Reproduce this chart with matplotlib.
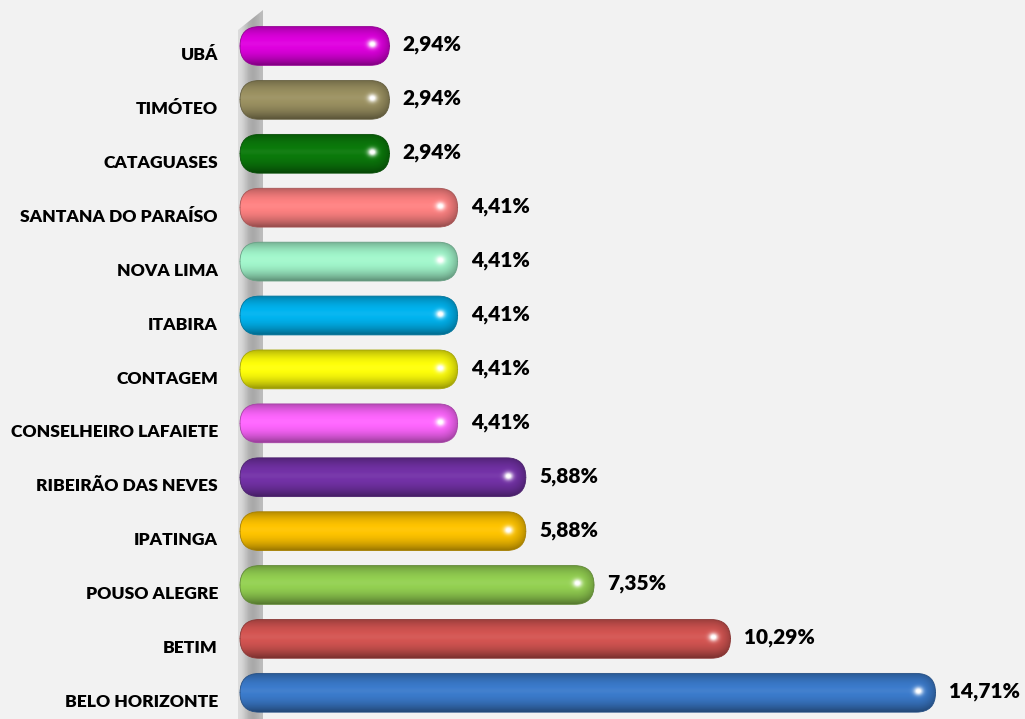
import numpy as np
import matplotlib.pyplot as plt
import matplotlib.colors as mcolors
from matplotlib.patches import FancyBboxPatch, Polygon

cidades = ["UBÁ", "TIMÓTEO", "CATAGUASES", "SANTANA DO PARAÍSO", "NOVA LIMA",
           "ITABIRA", "CONTAGEM", "CONSELHEIRO LAFAIETE", "RIBEIRÃO DAS NEVES",
           "IPATINGA", "POUSO ALEGRE", "BETIM", "BELO HORIZONTE"]
valores = [2.94, 2.94, 2.94, 4.41, 4.41, 4.41, 4.41, 4.41, 5.88, 5.88, 7.35, 10.29, 14.71]
cores = ["#e000e0", "#9c9262", "#0b7a0b", "#ff8282", "#a2f7cc",
         "#00b4f0", "#ffff0a", "#ff66ff", "#7432a8",
         "#ffc400", "#94d152", "#d45552", "#3b7bcc"]
rotulos = [f"{v:.2f}".replace(".", ",") + "%" for v in valores]

fundo = "#f2f2f2"
px_x = 46.4   # pixels por unidade (x)
px_y = 53.9   # pixels por categoria (y)
inicio = -0.28  # a barra comeca um pouco antes do zero (efeito 3d)
altura = 0.72


def textura(cor, nx, ny):
    rgb = np.array(mcolors.to_rgb(cor))
    t = np.linspace(0, 1, ny)[:, None]
    perfil = 1.01 - 0.42 * ((t - 0.45) / 0.55) ** 2
    perfil = np.repeat(perfil, nx, axis=1)
    # escurece na ponta arredondada
    col = np.arange(nx)[None, :]
    r = 19.0
    ponta = np.clip((col - (nx - r)) / r, 0, 1)
    perfil = perfil * (1 - 0.3 * ponta ** 2)
    img = rgb[None, None, :] * np.clip(perfil, 0, 1)[:, :, None]
    claro = np.clip(perfil - 1, 0, None)[:, :, None]
    img = img + (1 - img) * claro * 4
    # brilho
    yy, xx = np.mgrid[0:ny, 0:nx]
    g = np.exp(-(((xx - (nx - 18)) / 4.5) ** 2 + ((yy - ny * 0.45) / 3.8) ** 2))
    img = img + (1 - img) * np.clip(g * 1.2, 0, 1)[:, :, None]
    return np.clip(img, 0, 1)


fig = plt.figure(figsize=(10.25, 7.19), dpi=100, facecolor=fundo)
ax = fig.add_axes([238 / 1025, 0, (1025 - 238) / 1025, 1])
ax.set_facecolor(fundo)

x_esq = (238 - 253) / px_x
x_dir = (1025 - 253) / px_x
y_cima = -46 / px_y
y_baixo = (719 - 46) / px_y

# parede lateral
x_parede = (263 - 253) / px_x
parede = Polygon([(x_esq, y_baixo), (x_esq, (30 - 46) / px_y),
                  (x_parede, (10 - 46) / px_y), (x_parede, y_baixo)],
                 closed=True, facecolor="none", edgecolor="none")
ax.add_patch(parede)
grad = np.array([[0.86, 0.80, 0.70, 0.65, 0.68, 0.74]])
im = ax.imshow(grad, cmap="gray", vmin=0, vmax=1, aspect="auto",
               extent=(x_esq, x_parede, y_baixo, y_cima), interpolation="bicubic", zorder=1)
im.set_clip_path(parede)

for i, (v, cor) in enumerate(zip(valores, cores)):
    nx = int((v - inicio) * px_x)
    ny = int(altura * px_y)
    caixa = FancyBboxPatch((inicio, i - altura / 2), v - inicio, altura,
                           boxstyle="round,pad=0,rounding_size=0.42",
                           mutation_aspect=px_x / px_y,
                           facecolor="none",
                           edgecolor=np.array(mcolors.to_rgb(cor)) * 0.65,
                           linewidth=0.6, zorder=3)
    ax.add_patch(caixa)
    img = ax.imshow(textura(cor, nx, ny), aspect="auto", interpolation="bilinear",
                    extent=(inicio, v, i + altura / 2, i - altura / 2), zorder=2)
    img.set_clip_path(caixa)
    ax.text(v + 0.29, i - 0.02, rotulos[i], ha="left", va="center",
            fontsize=15, fontweight="heavy", family="Lato", color="black")
    ax.text((218 - 253) / px_x, i + 0.17, cidades[i], ha="right", va="center",
            fontsize=12.6, fontweight="heavy", family="Lato", color="black", clip_on=False)

ax.set_xlim(x_esq, x_dir)
ax.set_ylim(y_baixo, y_cima)
ax.axis("off")

plt.savefig("out.png", dpi=100, facecolor=fundo)
